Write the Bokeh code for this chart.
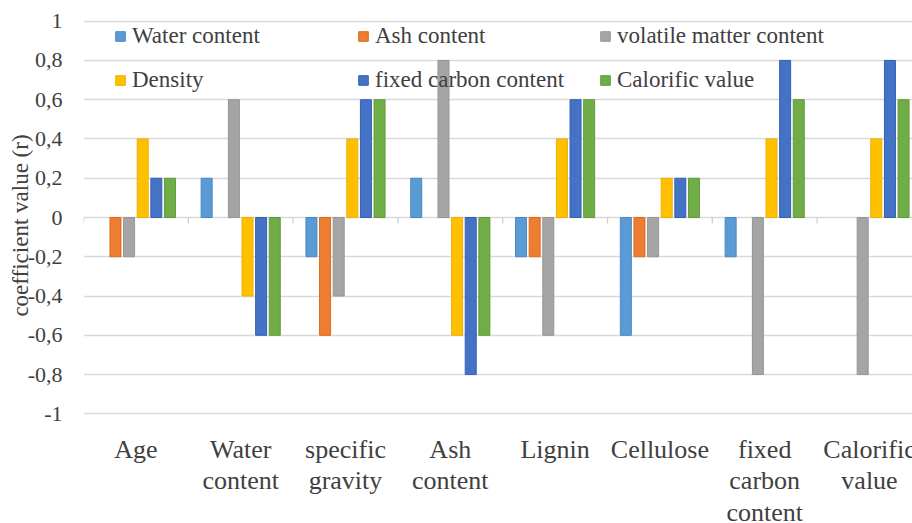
from bokeh.plotting import figure
from bokeh.layouts import column
from bokeh.models import (ColumnDataSource, FixedTicker, LinearAxis, Range1d,
                          Legend, LegendItem)
from bokeh.core.properties import value
from bokeh.transform import dodge
from bokeh.embed import file_html
from bokeh.resources import INLINE

# ---------------- data ----------------
categories = ["Age", "Water content", "specific gravity", "Ash content",
              "Lignin", "Cellulose", "fixed carbon content", "Calorific value"]
category_labels = ["Age", "Water\ncontent", "specific\ngravity", "Ash\ncontent",
                   "Lignin", "Cellulose", "fixed\ncarbon\ncontent", "Calorific\nvalue"]
series_names = ["Water content", "Ash content", "volatile matter content",
                "Density", "fixed carbon content", "Calorific value"]

water_content = [0, 0.2, -0.2, 0.2, -0.2, -0.6, -0.2, 0]
ash_content = [-0.2, 0, -0.6, 0, -0.2, -0.2, 0, 0]
volatile_matter_content = [-0.2, 0.6, -0.4, 0.8, -0.6, -0.2, -0.8, -0.8]
density = [0.4, -0.4, 0.4, -0.6, 0.4, 0.2, 0.4, 0.4]
fixed_carbon_content = [0.2, -0.6, 0.6, -0.8, 0.6, 0.2, 0.8, 0.8]
calorific_value = [0.2, -0.6, 0.6, -0.6, 0.6, 0.2, 0.6, 0.6]

y_ticks = [-1, -0.8, -0.6, -0.4, -0.2, 0, 0.2, 0.4, 0.6, 0.8, 1]
y_tick_labels = ["-1", "-0,8", "-0,6", "-0,4", "-0,2", "0", "0,2", "0,4", "0,6", "0,8", "1"]
y_title = "coefficient value (r)"

series_values = [water_content, ash_content, volatile_matter_content,
                 density, fixed_carbon_content, calorific_value]

# ---------------- style / layout ----------------
fills = ["#5B9BD5", "#ED7D31", "#A5A5A5", "#FFC000", "#4472C4", "#70AD47"]
lines = ["#4A88C4", "#DC6A1E", "#959595", "#EDB000", "#3461B5", "#5F9B3A"]
FONT = "Liberation Serif"
TXT = "#404040"
GRID = "#d9d9d9"

W = 912
H1 = 430                 # chart part
H2 = 93                  # category label strip
TOP = 20                 # frame top (px)
PX_PER_UNIT = 196.3      # vertical scale
PX_PER_CAT = 104.8       # horizontal scale
LEFT = 83

n_cat = len(categories)
centers = [i + 0.5 for i in range(n_cat)]
bounds = [float(i) for i in range(n_cat + 1)]
y_lo, y_hi = y_ticks[0], y_ticks[-1]
y_top = y_hi + 0.7 / PX_PER_UNIT
y_bottom = y_top - (H1 - TOP) / PX_PER_UNIT
x_end = (W - LEFT) / PX_PER_CAT

p = figure(width=W, height=H1,
           x_range=Range1d(0, x_end), y_range=Range1d(y_bottom, y_top),
           output_backend="svg", toolbar_location=None,
           x_axis_location=None, y_axis_location=None,
           min_border_left=LEFT, min_border_right=0,
           min_border_top=TOP, min_border_bottom=0)
p.outline_line_color = None
p.background_fill_color = "white"
p.border_fill_color = "white"

p.xgrid.visible = False
p.ygrid.ticker = FixedTicker(ticks=y_ticks)
p.ygrid.grid_line_color = GRID
p.ygrid.grid_line_width = 1.3

# small ticks on the zero line at category boundaries
tick_src = ColumnDataSource(dict(x=bounds, y0=[0.0] * len(bounds),
                                 y1=[-6 / PX_PER_UNIT] * len(bounds)))
p.segment(x0="x", y0="y0", x1="x", y1="y1", source=tick_src,
          line_color="#cfcfcf", line_width=1.3)

# y axis
y_axis = LinearAxis(ticker=FixedTicker(ticks=y_ticks), bounds=(y_lo, y_hi),
                    major_label_overrides=dict(zip(y_ticks, y_tick_labels)),
                    axis_line_color=None, major_tick_line_color=None,
                    minor_tick_line_color=None, major_tick_out=0, major_tick_in=0,
                    major_label_standoff=21,
                    major_label_text_font=FONT, major_label_text_font_size="22px",
                    major_label_text_color=TXT,
                    axis_label=y_title, axis_label_standoff=-8,
                    axis_label_text_font=FONT, axis_label_text_font_size="23px",
                    axis_label_text_font_style="normal",
                    axis_label_text_color=TXT)
p.add_layout(y_axis, "left")

# bars
pitch = 0.13
bar_w = 0.105
renderers = []
for k, (name, vals) in enumerate(zip(series_names, series_values)):
    xs = [c for c, v in zip(centers, vals) if v != 0]
    tops = [v for v in vals if v != 0]
    src = ColumnDataSource(dict(x=xs, top=tops))
    r = p.vbar(x=dodge("x", (k - 2.5) * pitch, range=p.x_range), top="top", bottom=0,
               width=bar_w, source=src, fill_color=fills[k], line_color=lines[k],
               line_width=1)
    renderers.append(r)

# legend: 2 rows x 3 columns, placed individually (location = bottom-left, from frame bottom)
col_x = [31, 274, 516]
row_center = [36, 79.5]
item_h = 28
row_y = [(H1 - c) - item_h / 2 for c in row_center]
order = [(0, 0), (0, 1), (0, 2), (1, 0), (1, 1), (1, 2)]
for k, (row, col) in enumerate(order):
    lg = Legend(items=[LegendItem(label=series_names[k], renderers=[renderers[k]])],
                location=(col_x[col], row_y[row]),
                padding=0, margin=0, spacing=0,
                glyph_width=12, glyph_height=12, label_height=item_h,
                label_standoff=6,
                label_text_font=FONT, label_text_font_size="23px",
                label_text_color=TXT,
                background_fill_alpha=0, border_line_color=None)
    p.add_layout(lg)

# category label strip sharing the x scale
p2 = figure(width=W, height=H2, x_range=p.x_range, y_range=Range1d(0, H2),
            output_backend="svg", toolbar_location=None,
            x_axis_location=None, y_axis_location=None,
            min_border_left=LEFT, min_border_right=0,
            min_border_top=0, min_border_bottom=0)
p2.outline_line_color = None
p2.xgrid.visible = False
p2.ygrid.visible = False
p2.background_fill_color = "white"
p2.border_fill_color = "white"

label_top = 434.6 - H1   # first line's top, px below the strip's top edge
cat_src = ColumnDataSource(dict(x=centers, y=[H2 - label_top] * n_cat, text=category_labels))
p2.text(x="x", y="y", text="text", source=cat_src,
        text_align="center", text_baseline="top",
        text_font=value(FONT), text_font_size="26px", text_color=TXT,
        text_line_height=1.08)

layout = column(p, p2, spacing=0)
open("out.html", "w").write(file_html(layout, INLINE))
